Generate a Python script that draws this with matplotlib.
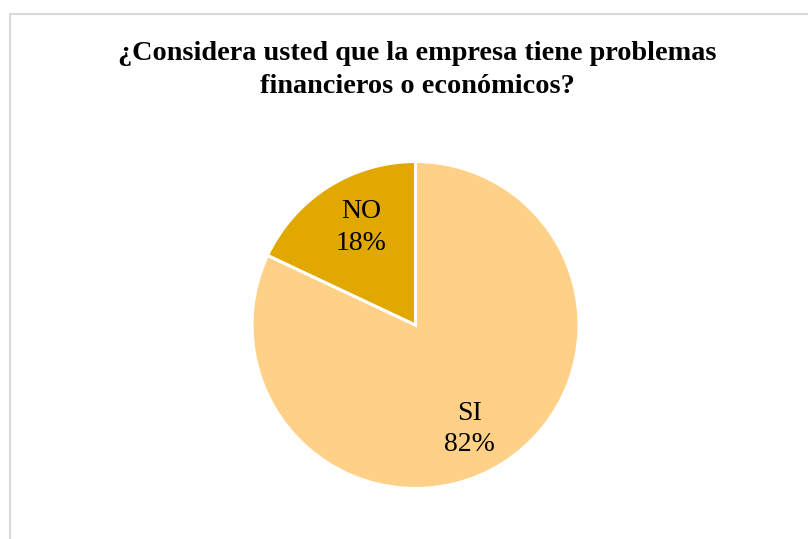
import numpy as np
import matplotlib.pyplot as plt
from matplotlib.patches import Rectangle

labels = ["SI", "NO"]
values = [82, 18]
colors = ["#FFD188", "#E0A800"]

title = "¿Considera usted que la empresa tiene problemas\nfinancieros o económicos?"

plt.rcParams["font.family"] = ["Liberation Serif", "DejaVu Serif"]

W, H = 808, 539
fig = plt.figure(figsize=(W / 100, H / 100), dpi=100)

# chart frame (runs off the right and bottom edges)
fig.patches.append(Rectangle((10 / W, -0.1), 1.2, 1 - 13.5 / H + 0.1,
                             transform=fig.transFigure, fill=False,
                             edgecolor="#D9D9D9", linewidth=1.5))

cx, cy, r = 415.5, 325, 163.5
ax = fig.add_axes([(cx - r) / W, 1 - (cy + r) / H, 2 * r / W, 2 * r / H])

wedges, _ = ax.pie(values, colors=colors, startangle=90, counterclock=False,
                   wedgeprops=dict(edgecolor="white", linewidth=2.2))

# labels sit a bit clockwise of each wedge's middle
for w, l, v in zip(wedges, labels, values):
    ang = np.deg2rad((w.theta1 + w.theta2) / 2 - 4)
    ax.text(0.7 * np.cos(ang), 0.7 * np.sin(ang) - 0.02, f"{l}\n{v}%",
            fontsize=20, ha="center", va="center", linespacing=1.35)

ax.set_xlim(-1, 1)
ax.set_ylim(-1, 1)
ax.set_aspect("equal")
ax.axis("off")

fig.text(417 / W, 1 - 70 / H, title, ha="center", va="center",
         fontsize=20.3, fontweight="bold", linespacing=1.4)

fig.savefig("out.png", dpi=100)
